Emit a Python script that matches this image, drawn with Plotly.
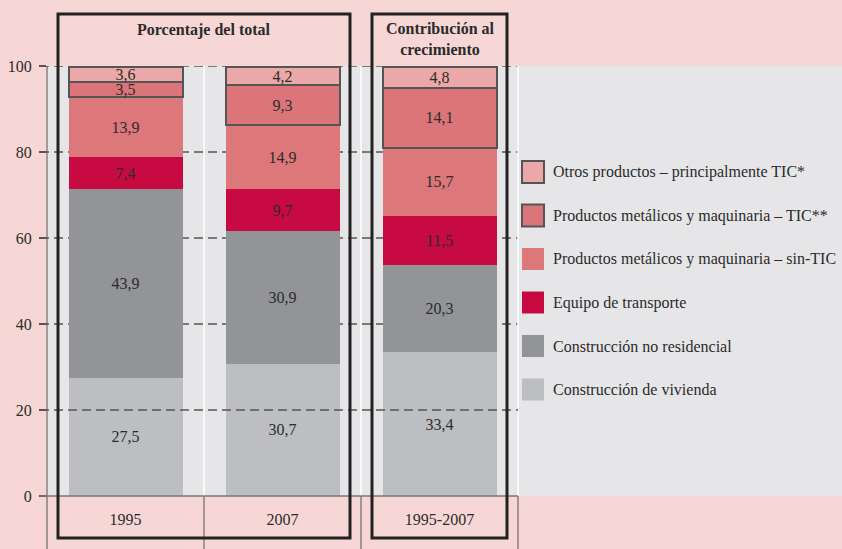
import plotly.graph_objects as go

# Datos (porcentajes)
categorias = ["1995", "2007", "1995-2007"]
series = [
    "Construcción de vivienda",
    "Construcción no residencial",
    "Equipo de transporte",
    "Productos metálicos y maquinaria – sin-TIC",
    "Productos metálicos y maquinaria – TIC**",
    "Otros productos – principalmente TIC*",
]
vivienda = [27.5, 30.7, 33.4]
no_residencial = [43.9, 30.9, 20.3]
transporte = [7.4, 9.7, 11.5]
metal_sin_tic = [13.9, 14.9, 15.7]
metal_tic = [3.5, 9.3, 14.1]
otros_tic = [3.6, 4.2, 4.8]
valores = [vivienda, no_residencial, transporte, metal_sin_tic, metal_tic, otros_tic]

colores = ["#bdbec2", "#939498", "#c80a43", "#dc777a", "#dc7579", "#eba8a8"]
con_borde = [False, False, False, False, True, True]

yticks = [0, 20, 40, 60, 80, 100]

# geometria
W, H = 842, 549
L, T, B = 47, 66, 53
plot_w = W - L
plot_h = H - T - B
CAT_W = 157
FONT = "Liberation Serif"
TXT = "#2b2b2b"
PINK = "#f7d7d6"
GRAY = "#e6e6e8"


def px(x):
    return (x - L) / plot_w


def py(y):
    return (H - B - y) / plot_h


fig = go.Figure()
for nombre, vals, col, borde in zip(series, valores, colores, con_borde):
    fig.add_trace(go.Bar(
        x=categorias, y=vals, name=nombre,
        marker=dict(color=col, line=dict(color="#555555", width=2 if borde else 0)),
        width=114 / CAT_W,
        texttemplate="%{y:.1f}", textposition="inside", insidetextanchor="middle",
        textangle=0, constraintext="none",
        textfont=dict(family=FONT, size=16, color=TXT),
        showlegend=False, hoverinfo="skip",
    ))

shapes = []
# lineas de cuadricula discontinuas
for v in yticks[1:]:
    shapes.append(dict(type="line", xref="paper", yref="y", x0=px(40), x1=px(518), y0=v, y1=v,
                       line=dict(color="#555555", width=1.5, dash="9px,5px"),
                       layer="above" if v == 20 else "below"))
# separadores blancos dentro del area
for i in range(1, 4):
    xs = L + CAT_W * i
    shapes.append(dict(type="line", xref="paper", yref="paper", x0=px(xs), x1=px(xs), y0=0, y1=1,
                       line=dict(color="white", width=1.5), layer="below"))
# separadores oscuros bajo el eje
for i in range(0, 4):
    xs = L + CAT_W * i
    shapes.append(dict(type="line", xref="paper", yref="paper", x0=px(xs), x1=px(xs),
                       y0=py(H), y1=0 if i else 1,
                       line=dict(color="#555555", width=1)))
# eje x
shapes.append(dict(type="line", xref="paper", yref="paper", x0=px(40), x1=px(518), y0=0, y1=0,
                   line=dict(color="#777777", width=1.5)))
# recuadros negros
for x0, x1 in [(58, 350), (372, 507)]:
    shapes.append(dict(type="rect", xref="paper", yref="paper", x0=px(x0), x1=px(x1),
                       y0=py(538), y1=py(14), line=dict(color="#222222", width=3)))

annotations = [
    dict(text="<b>Porcentaje del total</b>", x=px(204), y=py(30), xref="paper", yref="paper",
         xanchor="center", yanchor="middle",
         showarrow=False, font=dict(family=FONT, size=16, color=TXT)),
    dict(text="<b>Contribución al<br>crecimiento</b>", x=px(440), y=py(39), xref="paper", yref="paper",
         xanchor="center", yanchor="middle",
         showarrow=False, font=dict(family=FONT, size=16, color=TXT)),
]

# leyenda manual (de arriba abajo)
for k, idx in enumerate(range(len(series) - 1, -1, -1)):
    yc = 172 + 43.5 * k
    shapes.append(dict(type="rect", xref="paper", yref="paper", x0=px(522), x1=px(544),
                       y0=py(yc + 11), y1=py(yc - 11), fillcolor=colores[idx],
                       line=dict(color="#555555", width=2 if con_borde[idx] else 0)))
    annotations.append(dict(text=series[idx], x=px(551), y=py(yc), xref="paper", yref="paper",
                            xanchor="left", yanchor="middle", showarrow=False,
                            font=dict(family=FONT, size=16, color=TXT)))

fig.update_layout(
    width=W, height=H, barmode="stack", separators=",.",
    margin=dict(l=L, r=0, t=T, b=B, pad=0),
    paper_bgcolor=PINK, plot_bgcolor=GRAY,
    shapes=shapes, annotations=annotations,
    xaxis=dict(type="category", range=[-0.5, -0.5 + plot_w / CAT_W], showgrid=False,
               zeroline=False, showline=False, ticks="", ticklabelstandoff=12,
               tickfont=dict(family=FONT, size=16, color=TXT), fixedrange=True),
    yaxis=dict(range=[0, 100], tickvals=yticks, showgrid=False, zeroline=False, showline=False,
               ticks="outside", ticklen=7, tickwidth=1.5, tickcolor="#555555",
               ticklabelstandoff=4,
               tickfont=dict(family=FONT, size=16, color=TXT), fixedrange=True),
)

fig.write_html("out.html", config={"displayModeBar": False},
               post_script="document.body.style.margin='0';document.body.style.overflow='hidden';")
